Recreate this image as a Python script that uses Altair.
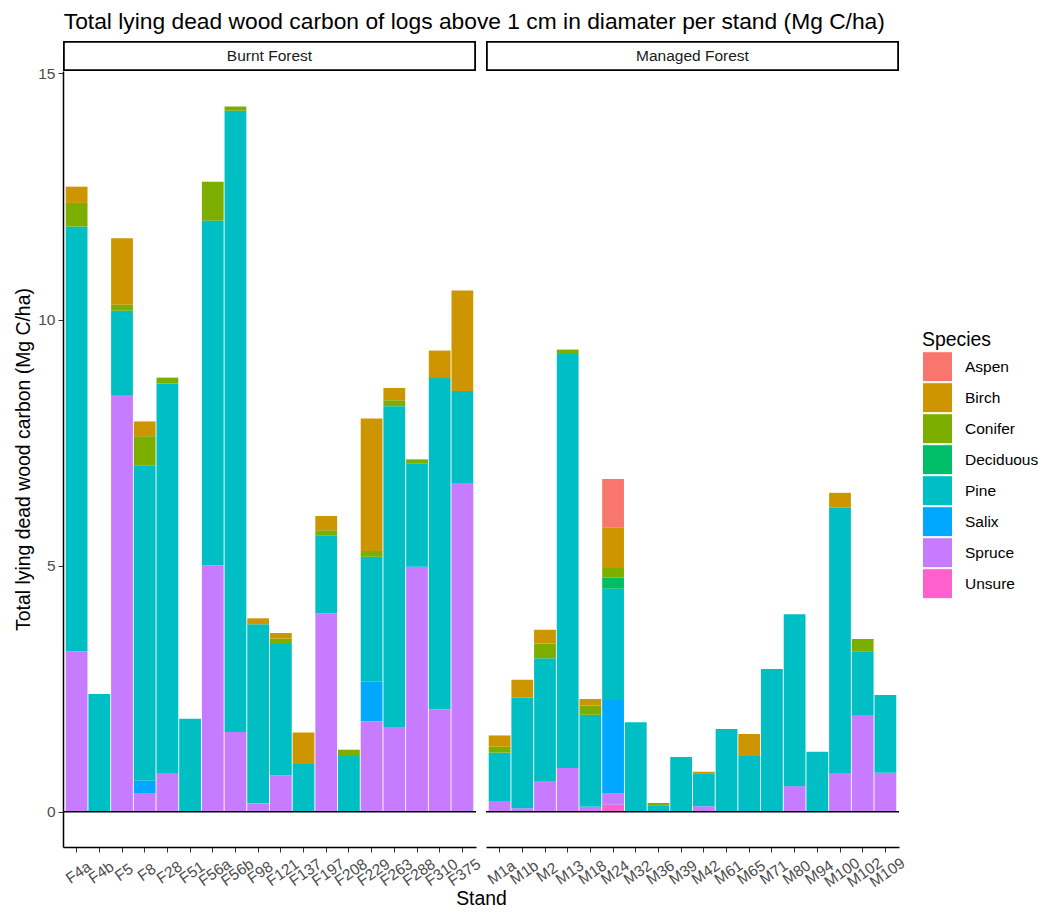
import altair as alt
import pandas as pd

FONT = "Liberation Sans"

species_legend = ["Aspen", "Birch", "Conifer", "Deciduous", "Pine", "Salix", "Spruce", "Unsure"]
species_colors = ["#F8766D", "#CD9600", "#7CAE00", "#00BE67", "#00BFC4", "#00A9FF", "#C77CFF", "#FF61CC"]
# stacking order, bottom to top
stack_order = ["Unsure", "Spruce", "Salix", "Pine", "Deciduous", "Conifer", "Birch", "Aspen"]

stands_burnt = ["F4a", "F4b", "F5", "F8", "F28", "F51", "F56a", "F56b", "F98", "F121",
                "F137", "F197", "F208", "F229", "F263", "F288", "F310", "F375"]
burnt_spruce = [3.26, 0, 8.45, 0.38, 0.77, 0, 5.01, 1.62, 0.17, 0.74, 0, 4.03, 0, 1.84, 1.72, 4.98, 2.08, 6.68]
burnt_salix = [0, 0, 0, 0.25, 0, 0, 0, 0, 0, 0, 0, 0, 0, 0.81, 0, 0, 0, 0]
burnt_pine = [8.63, 2.39, 1.73, 6.41, 7.93, 1.89, 7.00, 12.62, 3.64, 2.67, 0.97, 1.59, 1.13, 2.53, 6.52, 2.10, 6.73, 1.87]
burnt_conifer = [0.48, 0, 0.12, 0.59, 0.12, 0, 0.79, 0.09, 0, 0.11, 0, 0.10, 0.13, 0.12, 0.12, 0.08, 0, 0]
burnt_birch = [0.33, 0, 1.35, 0.30, 0, 0, 0, 0, 0.12, 0.11, 0.64, 0.29, 0, 2.69, 0.25, 0, 0.56, 2.04]

stands_managed = ["M1a", "M1b", "M2", "M13", "M18", "M24", "M32", "M36", "M39", "M42",
                  "M61", "M65", "M71", "M80", "M94", "M100", "M102", "M109"]
man_unsure = [0, 0, 0, 0, 0, 0.14, 0, 0, 0, 0, 0, 0, 0, 0, 0, 0, 0, 0]
man_spruce = [0.22, 0.07, 0.61, 0.89, 0.10, 0.23, 0, 0, 0, 0.11, 0, 0, 0, 0.52, 0, 0.77, 1.95, 0.79]
man_salix = [0, 0, 0, 0, 0, 1.90, 0, 0, 0, 0, 0, 0, 0, 0, 0, 0, 0, 0]
man_pine = [0.98, 2.25, 2.51, 8.41, 1.87, 2.26, 1.82, 0.13, 1.11, 0.67, 1.68, 1.13, 2.90, 3.49, 1.22, 5.41, 1.31, 1.58]
man_deciduous = [0, 0, 0, 0, 0, 0.23, 0, 0, 0, 0, 0, 0, 0, 0, 0, 0, 0, 0]
man_conifer = [0.12, 0, 0.30, 0.09, 0.19, 0.19, 0, 0.05, 0, 0, 0, 0, 0, 0, 0, 0, 0.25, 0]
man_birch = [0.23, 0.36, 0.28, 0, 0.13, 0.83, 0, 0, 0, 0.03, 0, 0.45, 0, 0, 0, 0.30, 0, 0]
man_aspen = [0, 0, 0, 0, 0, 0.98, 0, 0, 0, 0, 0, 0, 0, 0, 0, 0, 0, 0]


def long_table(stands, series):
    rows = []
    for sp, vals in series.items():
        for st, v in zip(stands, vals):
            if v > 0:
                rows.append({"Stand": st, "Species": sp, "Carbon": v,
                             "rank": stack_order.index(sp)})
    return pd.DataFrame(rows)


df_b = long_table(stands_burnt, {"Spruce": burnt_spruce, "Salix": burnt_salix, "Pine": burnt_pine,
                                 "Conifer": burnt_conifer, "Birch": burnt_birch})
df_m = long_table(stands_managed, {"Unsure": man_unsure, "Spruce": man_spruce, "Salix": man_salix,
                                   "Pine": man_pine, "Deciduous": man_deciduous, "Conifer": man_conifer,
                                   "Birch": man_birch, "Aspen": man_aspen})

W = 413
H = 776
STRIP_H = 30
TOTAL_H = H + STRIP_H
YDOM = [-0.7165, 15.05]
YRANGE = [TOTAL_H, STRIP_H]
TXT = 15.5

color_enc = alt.Color(
    "Species:N",
    scale=alt.Scale(domain=species_legend, range=species_colors),
    legend=alt.Legend(
        title="Species", orient="none", legendX=859, legendY=290,
        symbolType="square", symbolSize=900, symbolStrokeColor="white",
        symbolStrokeWidth=1, symbolOpacity=1, rowPadding=0, clipHeight=30.6, labelOffset=12,
        labelFontSize=TXT, titleFontSize=19.4, titleFontWeight="normal", padding=0,
        labelColor="black", titleColor="black", titlePadding=1, labelFont=FONT, titleFont=FONT,
    ),
)

no_view = alt.ViewBackground(stroke="transparent", strokeWidth=0)


def panel(df, stands, label, show_y, xtitle):
    if show_y:
        yaxis = alt.Axis(title="Total lying dead wood carbon (Mg C/ha)", values=[0, 5, 10, 15],
                         grid=False, domainColor="black", domainWidth=1.5, tickColor="#333333",
                         tickSize=5, labelColor="#4D4D4D", labelFontSize=TXT, labelPadding=3,
                         titleFontSize=19.4, titleFontWeight="normal", titleColor="black",
                         titlePadding=4, labelFont=FONT, titleFont=FONT)
    else:
        yaxis = None
    axis_kw = dict(labelAngle=-35, labelAlign="center", labelBaseline="middle", labelOffset=2,
                   domainColor="black", domainWidth=1.5, tickColor="#333333", tickSize=5,
                   labelColor="#4D4D4D", labelFontSize=TXT, labelPadding=20,
                   labelFont=FONT, grid=False)
    if xtitle:
        axis_kw.update(title=xtitle, titleX=418, titleY=51, titleAlign="center", titleBaseline="middle",
                       titleAngle=0, titleFontSize=19.4, titleFontWeight="normal", titleColor="black",
                       titleFont=FONT)
    else:
        axis_kw.update(title=None)
    xenc = alt.X("Stand:N", sort=stands,
                 scale=alt.Scale(domain=stands, paddingInner=0.04, paddingOuter=0.12),
                 axis=alt.Axis(**axis_kw))
    yscale = alt.Scale(domain=YDOM, nice=False, zero=False, range=YRANGE)
    bars = alt.Chart(df).mark_bar().encode(
        x=xenc,
        y=alt.Y("Carbon:Q", stack="zero", scale=yscale, axis=yaxis),
        color=color_enc,
        order=alt.Order("rank:Q", sort="ascending"),
    )
    zero = alt.Chart(pd.DataFrame({"z": [0]})).mark_rule(color="black", strokeWidth=1.5).encode(
        y=alt.Y("z:Q", scale=yscale))
    strip_df = pd.DataFrame({"label": [label]})
    strip_box = alt.Chart(strip_df).mark_rect(fill="white", stroke="black", strokeWidth=1.8).encode(
        x=alt.value(0.9), x2=alt.value(W - 0.9), y=alt.value(0.9), y2=alt.value(STRIP_H - 0.9))
    strip_txt = alt.Chart(strip_df).mark_text(fontSize=TXT, font=FONT, color="#1A1A1A",
                                              baseline="middle").encode(
        text="label:N", x=alt.value(W / 2), y=alt.value(STRIP_H / 2))
    return alt.layer(bars, zero, strip_box, strip_txt).properties(width=W, height=TOTAL_H, view=no_view)


left = panel(df_b, stands_burnt, "Burnt Forest", True, "Stand")
right = panel(df_m, stands_managed, "Managed Forest", False, None)

chart = alt.hconcat(left, right, spacing=10, bounds="flush").resolve_scale(
    x="independent", y="independent").properties(
    title=alt.Title("Total lying dead wood carbon of logs above 1 cm in diamater per stand (Mg C/ha)",
                    anchor="start", fontSize=22.8, font=FONT, fontWeight="normal", color="black",
                    offset=7, dx=50),
    padding={"left": 5, "top": 3, "right": 0, "bottom": 0},
).configure_view(stroke="transparent", strokeWidth=0).configure(font=FONT)

chart.save("out.html", embed_options={"renderer": "svg", "actions": False})
